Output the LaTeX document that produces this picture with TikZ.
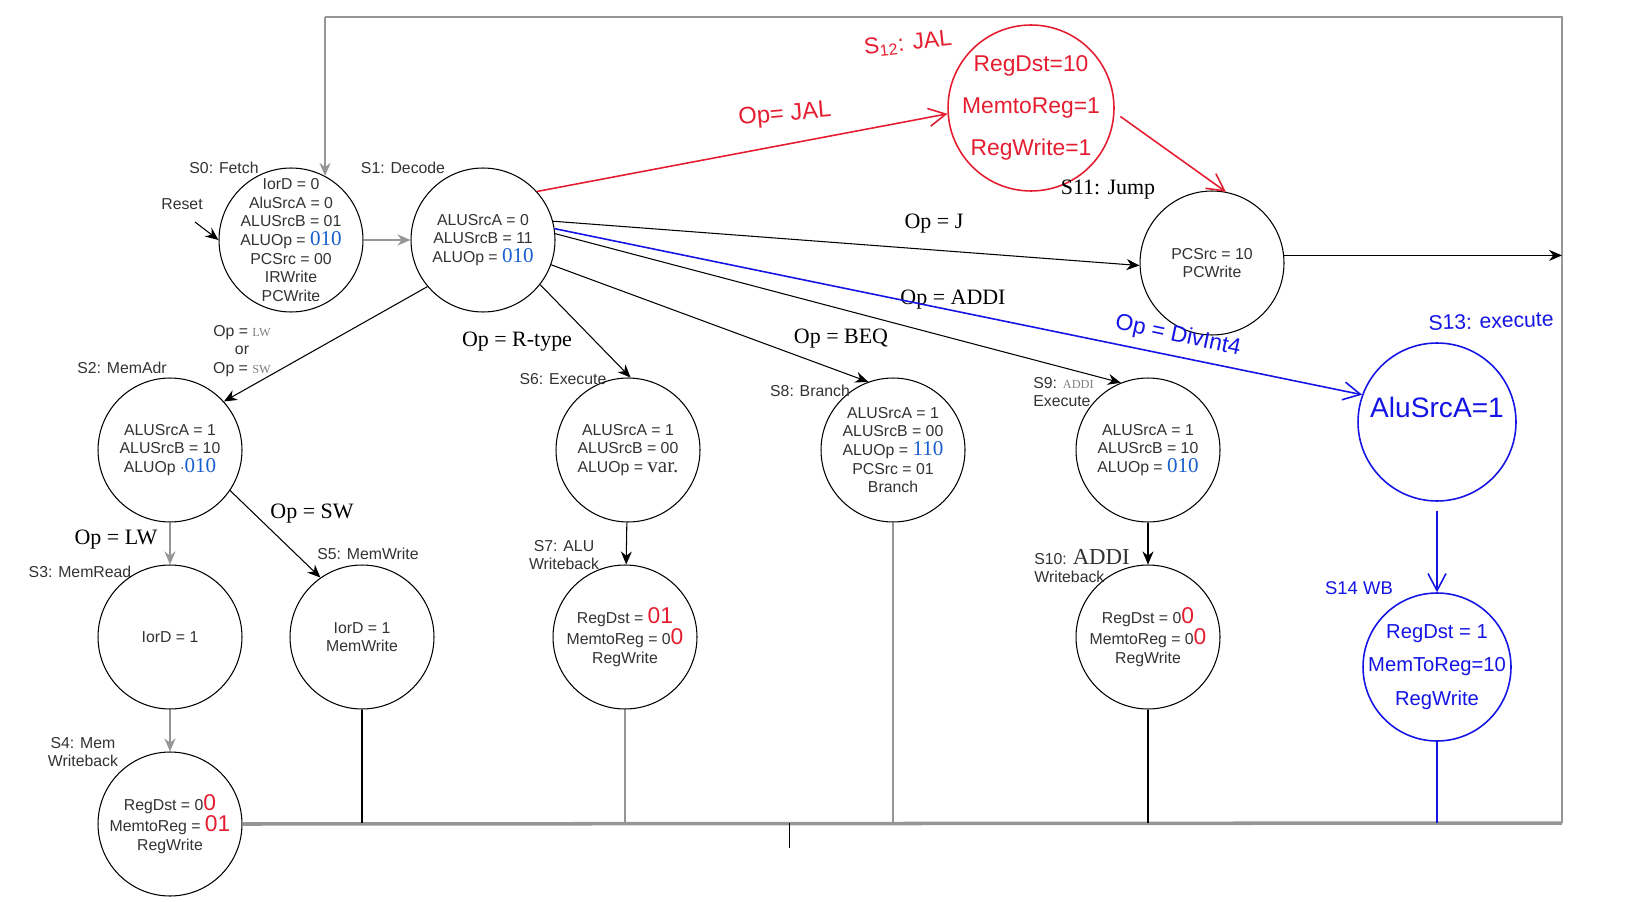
\documentclass[tikz,border=0pt]{standalone}
\usepackage{fontspec}
\setmainfont{Liberation Sans}
\newfontfamily\tms{Liberation Serif}
\usepackage{xcolor}
\usetikzlibrary{arrows.meta}
\definecolor{hred}{RGB}{228,30,48}
\definecolor{hblue}{RGB}{20,20,228}
\definecolor{opblue}{RGB}{25,95,205}
\definecolor{txt}{RGB}{50,50,50}
\definecolor{bus}{RGB}{150,150,150}
\newcommand{\opv}[1]{{\tms\fontsize{12}{10}\selectfont\color{opblue}#1}}
\newcommand{\redv}[1]{{\fontsize{13}{10}\selectfont\color{hred}#1}}
\newcommand{\smop}[1]{{\tms\fontsize{7}{8}\selectfont\color{gray}#1}}

\begin{document}
\begin{tikzpicture}[x=0.02cm,y=-0.02cm,
  state/.style={circle,draw,semithick,minimum size=2.88cm,inner sep=0pt,align=center,text=txt,font=\fontsize{9}{10.6}\selectfont},
  stname/.style={text=txt,font=\fontsize{9}{10.6}\selectfont,align=center,inner sep=0pt},
  cond/.style={font=\tms\fontsize{12.5}{14}\selectfont,inner sep=0pt},
  hstate/.style={circle,draw,line width=0.9pt,inner sep=-8pt,align=center},
  arr/.style={semithick,-{Stealth[length=2.6mm,width=2.2mm]}},
  garr/.style={bus,line width=1.3pt,-{Stealth[length=2.6mm,width=2.2mm]}},
  hand/.style={line width=0.9pt,-{Straight Barb[length=3.4mm,width=3.6mm]}}]
\useasboundingbox (0,0) rectangle (1646,902);

% states
\node[state,inner sep=-12pt] (s0) at (291,240) {IorD = 0\\AluSrcA = 0\\ALUSrcB = 01\\ALUOp = \opv{010}\\PCSrc = 00\\IRWrite\\PCWrite};
\node[state] (s1) at (483,240) {ALUSrcA = 0\\ALUSrcB = 11\\ALUOp = \opv{010}};
\node[state] (s2) at (170,450) {ALUSrcA = 1\\ALUSrcB = 10\\ALUOp $\cdot$\opv{010}};
\node[state] (s3) at (170,637) {IorD = 1};
\node[state] (s4) at (170,824) {RegDst = 0\redv{0}\\MemtoReg = \redv{01}\\RegWrite};
\node[state] (s5) at (362,637) {IorD = 1\\MemWrite};
\node[state] (s6) at (628,450) {ALUSrcA = 1\\ALUSrcB = 00\\ALUOp = {\tms\fontsize{12}{10}\selectfont var.}};
\node[state] (s7) at (625,637) {RegDst = \redv{01}\\MemtoReg = 0\redv{0}\\RegWrite};
\node[state,inner sep=-4pt] (s8) at (893,450) {ALUSrcA = 1\\ALUSrcB = 00\\ALUOp = \opv{110}\\PCSrc = 01\\Branch};
\node[state] (s9) at (1148,450) {ALUSrcA = 1\\ALUSrcB = 10\\ALUOp = \opv{010}};
\node[state] (s10) at (1148,637) {RegDst = 0\redv{0}\\MemtoReg = 0\redv{0}\\RegWrite};
\node[state] (s11) at (1212,263) {PCSrc = 10\\PCWrite};
\node[hstate,hred,minimum size=3.32cm,font=\fontsize{13}{24}\selectfont] (s12) at (1031,108) {RegDst=10\\MemtoReg=1\\RegWrite=1};
\node[hstate,hblue,minimum size=3.16cm,text depth=17pt,font=\fontsize{16}{18}\selectfont] (s13) at (1437,422) {AluSrcA=1};
\node[hstate,hblue,minimum size=2.96cm,font=\fontsize{11.5}{19}\selectfont] (s14) at (1437,667) {RegDst = 1\\MemToReg=10\\RegWrite};

% state names
\node[stname] (n0) at (224,168) {S0: Fetch};
\node[stname] (n1) at (403,168) {S1: Decode};
\node[stname] (n2) at (122,368) {S2: MemAdr};
\node[stname] (n3) at (80,572) {S3: MemRead};
\node[stname] (n4) at (83,752) {S4: Mem\\Writeback};
\node[stname] (n5) at (368,554) {S5: MemWrite};
\node[stname] (n6) at (563,379) {S6: Execute};
\node[stname] (n7) at (564,555) {S7: ALU\\Writeback};
\node[stname] (n8) at (810,391) {S8: Branch};
\node[stname,align=left,anchor=west] (n9) at (1033,392) {S9: \smop{ADDI}\\Execute};
\node[stname,align=left,anchor=west] (n10) at (1034,566) {S10: {\tms\fontsize{13}{10}\selectfont ADDI}\\Writeback};
\node[cond] (n11) at (1108,190) {S11: Jump};
\node[hred,font=\fontsize{13}{14}\selectfont,rotate=6] (n12) at (908,44) {S\textsubscript{12}: JAL};
\node[hblue,font=\fontsize{12}{14}\selectfont,rotate=2] (n13) at (1491,321) {S13: execute};
\node[hblue,font=\fontsize{10.5}{12}\selectfont] (n14) at (1359,588) {S14 WB};
\node[stname] (reset) at (182,204) {Reset};

% conditions
\node[stname] (c2) at (242,351) {Op = \smop{LW}\\or\\Op = \smop{SW}};
\node[cond] (c6) at (517,342) {Op = R-type};
\node[cond] (c8) at (841,339) {Op = BEQ};
\node[cond] (c9) at (953,300) {Op = ADDI};
\node[cond] (c11) at (934,224) {Op = J};
\node[cond] (c3) at (116,540) {Op = LW};
\node[cond] (c5) at (312,514) {Op = SW};
\node[hred,font=\fontsize{13.5}{14}\selectfont,rotate=5] (c12) at (785,115) {Op= JAL};
\node[hblue,font=\fontsize{13}{14}\selectfont,rotate=-12,inner sep=1pt] (c13) at (1178,336) {Op = DivInt4};

% bus back to fetch
\coordinate (busR) at (1562,823);
\coordinate (topR) at (1562,17);
\coordinate (topL) at (s0.62 |- topR);
\coordinate (tick) at (789,848);
\draw[bus,line width=2pt] (s4.east) -- (busR);
\draw[bus,line width=1.4pt] (busR) -- (topR) -- (topL);
\draw[garr] (topL) -- (s0.62);
\draw[thin] (tick) -- (tick |- busR);

% transitions
\coordinate (rst) at (195,222);
\draw[arr] (rst) -- (s0.west);
\draw[garr] (s0) -- (s1);
\draw[arr] (s1.220) -- (s2.42);
\draw[arr] (s1.-38) -- (s6.88);
\draw[arr] (s1.-20) -- (s8.110);
\draw[arr] (s1.5) -- (s9.112);
\draw[arr] (s1.15) -- (s11.182);
\draw[arr] (s11.6) -- (s11.6 -| busR);
\draw[garr] (s2) -- (s3);
\draw[arr] (s2.-34) -- (s5.125);
\draw[garr] (s3) -- (s4);
\draw[arr] (s6) -- (s7);
\draw[arr] (s9) -- (s10);
\draw[semithick] (s5.south) -- (s5.south |- busR);
\draw[semithick] (s10.south) -- (s10.south |- busR);
\draw[bus,line width=1.2pt] (s7.south) -- (s7.south |- busR);
\draw[bus,line width=1.2pt] (s8.south) -- (s8.south |- busR);

% hand-drawn additions
\draw[hand,hred] (s1.42) -- (s12.184);
\draw[hand,hred,shorten <=4pt] (s12.-3) -- (s11.79);
\draw[hand,hblue] (s1.9) -- (s13.160);
\draw[hand,hblue,shorten <=5pt] (s13.south) -- (s14.north);
\draw[hblue,line width=0.9pt] (s14.south) -- (s14.south |- busR);
\end{tikzpicture}
\end{document}
